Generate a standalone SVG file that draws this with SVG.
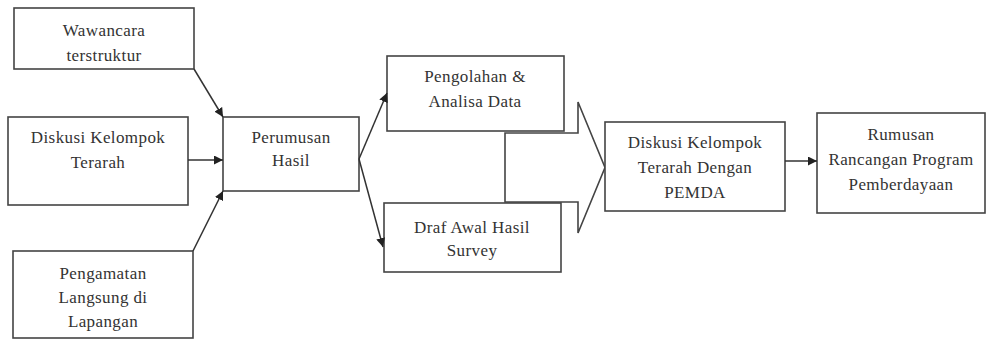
<svg xmlns="http://www.w3.org/2000/svg" width="987" height="341" viewBox="0 0 987 341">
<style>
.box{fill:#fff;stroke:#444;stroke-width:1.6}
.t{font-family:"Liberation Serif","Times New Roman",serif;font-size:17px;letter-spacing:0.4px;fill:#333;text-anchor:middle}
.c{stroke:#333;stroke-width:1.5;fill:none}
</style>
<defs>
<marker id="ah" viewBox="0 0 10 10" refX="10" refY="5" markerWidth="9" markerHeight="9" markerUnits="userSpaceOnUse" orient="auto">
<path d="M0,0 L10,5 L0,10 z" fill="#222"/>
</marker>
</defs>
<g id="block-arrow">
<polygon points="505,133 578,133 578,102 605,167.5 578,233 578,202 505,202" fill="#fff" stroke="#444" stroke-width="1.6"/>
</g>
<g id="n1"><rect class="box" x="14" y="8" width="180" height="61"/>
<text class="t" x="104" y="36">Wawancara</text><text class="t" x="104" y="61">terstruktur</text></g>
<g id="n2"><rect class="box" x="8" y="117" width="180" height="88"/>
<text class="t" x="98" y="143">Diskusi Kelompok</text><text class="t" x="98" y="168">Terarah</text></g>
<g id="n3"><rect class="box" x="13" y="251" width="180" height="87"/>
<text class="t" x="103" y="279">Pengamatan</text><text class="t" x="103" y="303">Langsung di</text><text class="t" x="103" y="327">Lapangan</text></g>
<g id="n4"><rect class="box" x="223" y="117" width="136" height="74"/>
<text class="t" x="291" y="143">Perumusan</text><text class="t" x="291" y="166">Hasil</text></g>
<g id="n5"><rect class="box" x="387" y="56" width="177" height="75"/>
<text class="t" x="475" y="82">Pengolahan &amp;</text><text class="t" x="475" y="107">Analisa Data</text></g>
<g id="n6"><rect class="box" x="384" y="203" width="177" height="69"/>
<text class="t" x="472" y="233">Draf Awal Hasil</text><text class="t" x="472" y="256">Survey</text></g>
<g id="n7"><rect class="box" x="605" y="122" width="180" height="89"/>
<text class="t" x="695" y="148">Diskusi Kelompok</text><text class="t" x="695" y="173">Terarah Dengan</text><text class="t" x="695" y="198">PEMDA</text></g>
<g id="n8"><rect class="box" x="817" y="113" width="168" height="100"/>
<text class="t" x="901" y="140">Rumusan</text><text class="t" x="901" y="165">Rancangan Program</text><text class="t" x="901" y="190">Pemberdayaan</text></g>
<g id="connectors">
<line class="c" x1="194" y1="69" x2="223" y2="117" marker-end="url(#ah)"/>
<line class="c" x1="188" y1="160" x2="223" y2="160" marker-end="url(#ah)"/>
<line class="c" x1="193" y1="251" x2="223" y2="191" marker-end="url(#ah)"/>
<line class="c" x1="359" y1="159" x2="387" y2="93" marker-end="url(#ah)"/>
<line class="c" x1="359" y1="159" x2="383" y2="247" marker-end="url(#ah)"/>
<line class="c" x1="785" y1="161" x2="817" y2="161" marker-end="url(#ah)"/>
</g>
</svg>
